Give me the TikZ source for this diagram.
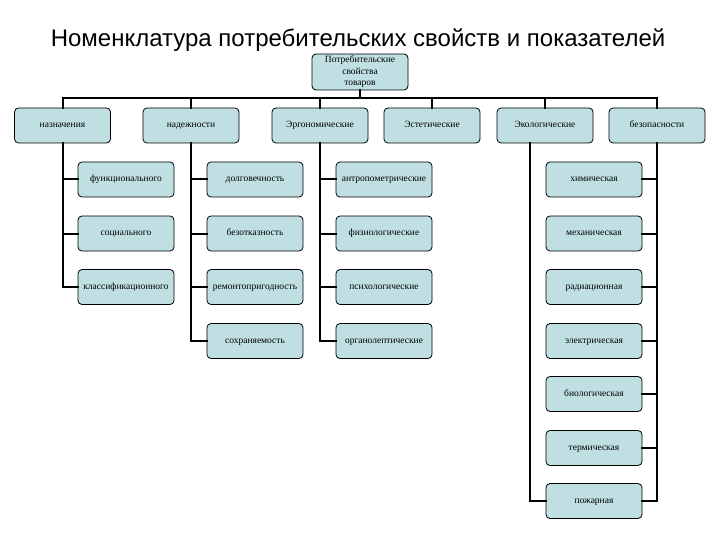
\documentclass[tikz,border=0pt]{standalone}
\usepackage{fontspec}
\setmainfont{Liberation Serif}
\newfontfamily\titlefont{Liberation Sans}
\definecolor{boxfill}{HTML}{BFDFE2}
\begin{document}
\begin{tikzpicture}[x=1pt,y=-1pt,
  box/.style={draw=black,line width=0.8pt,fill=boxfill,rounded corners=4pt,
    minimum width=96pt,minimum height=35pt,inner sep=0pt,align=center,
    text height=6.5pt,text depth=2pt,
    font=\fontsize{9.5}{11}\selectfont},
  link/.style={line width=2pt,line cap=rect}]
\useasboundingbox (0,0) rectangle (720,540);
\node[font=\titlefont\fontsize{24}{28}\selectfont] (title) at (358,40) {Номенклатура потребительских свойств и показателей};
\node[box,minimum height=36pt,text height=,text depth=,font=\fontsize{9.5}{11.5}\selectfont] (root) at (360,72) {Потребительские\\свойства\\товаров};
% level 1
\node[box] (n1) at (62.5,125.5) {назначения};
\node[box] (n2) at (191,125.5) {надежности};
\node[box] (n3) at (320,125.5) {Эргономические};
\node[box] (n4) at (432,125.5) {Эстетические};
\node[box] (n5) at (545,125.5) {Экологические};
\node[box] (n6) at (657,125.5) {безопасности};
% column 1
\node[box] (a1) at (126,179.5) {функционального};
\node[box] (a2) at (126,233.5) {социального};
\node[box] (a3) at (126,287) {классификационного};
% column 2
\node[box] (b1) at (255,179.5) {долговечность};
\node[box] (b2) at (255,233.5) {безотказность};
\node[box] (b3) at (255,287) {ремонтопригодность};
\node[box] (b4) at (255,341) {сохраняемость};
% column 3
\node[box] (c1) at (384,179.5) {антропометрические};
\node[box] (c2) at (384,233.5) {физиологические};
\node[box] (c3) at (384,287) {психологические};
\node[box] (c4) at (384,341) {органолептические};
% column 4
\node[box] (d1) at (594,179.5) {химическая};
\node[box] (d2) at (594,233.5) {механическая};
\node[box] (d3) at (594,287) {радиационная};
\node[box] (d4) at (594,341) {электрическая};
\node[box] (d5) at (594,394) {биологическая};
\node[box] (d6) at (594,448) {термическая};
\node[box] (d7) at (594,501) {пожарная};
% connectors
\foreach \n in {n1,n2,n3,n4,n5,n6}
  \draw[link] (root.south) -- ++(0,8) -| (\n.north);
\foreach \n in {a1,a2,a3}
  \draw[link] (n1.south) |- (\n.west);
\foreach \n in {b1,b2,b3,b4}
  \draw[link] (n2.south) |- (\n.west);
\foreach \n in {c1,c2,c3,c4}
  \draw[link] (n3.south) |- (\n.west);
\foreach \n in {d1,d2,d3,d4,d5,d6,d7}
  \draw[link] (n6.south) |- (\n.east);
\draw[link] ([xshift=-15pt]n5.south) |- (d7.west);
\end{tikzpicture}
\end{document}
